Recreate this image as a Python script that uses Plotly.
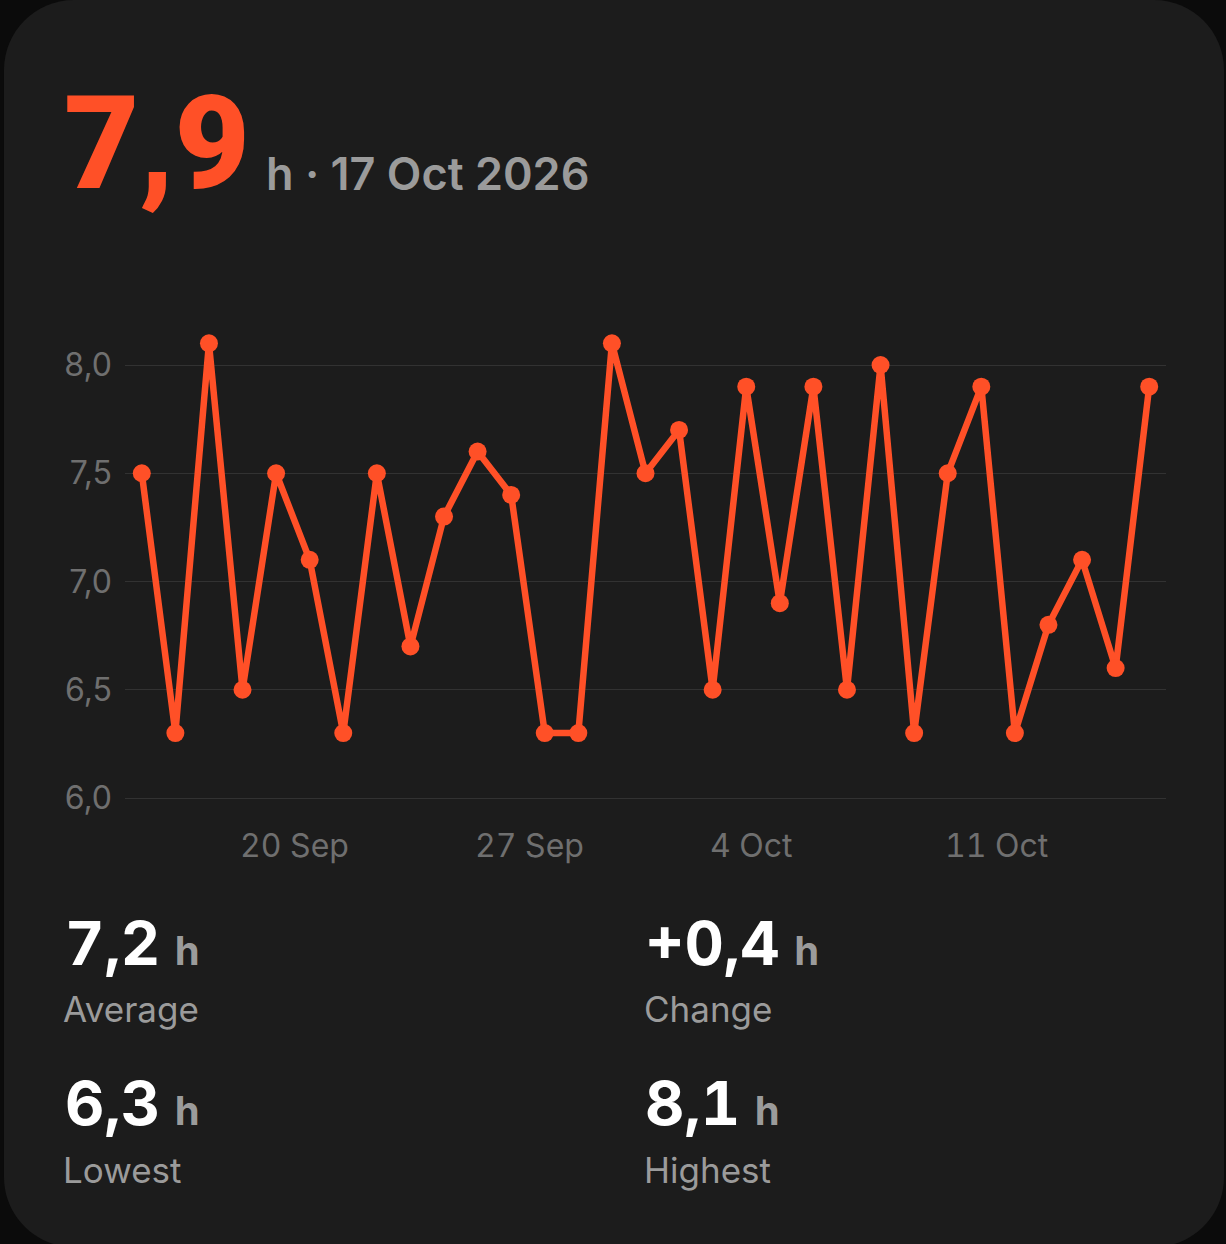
import plotly.graph_objects as go
import pandas as pd

# ---------------- data ----------------
dates = pd.date_range("2026-09-17", "2026-10-17", freq="D").strftime("%Y-%m-%d").tolist()
sleep_hours = [7.5, 6.3, 8.1, 6.5, 7.5, 7.1, 6.3, 7.5, 6.7, 7.3,
               7.6, 7.4, 6.3, 6.3, 8.1, 7.5, 7.7, 6.5, 7.9, 6.9,
               7.9, 6.5, 8.0, 6.3, 7.5, 7.9, 6.3, 6.8, 7.1, 6.6, 7.9]
y_ticks = [6.0, 6.5, 7.0, 7.5, 8.0]
x_tick_dates = ["2026-09-20", "2026-09-27", "2026-10-04", "2026-10-11"]
x_tick_labels = ["20 Sep", "27 Sep", "4 Oct", "11 Oct"]

headline_value = "7,9"
headline_sub = "h · 17 Oct 2026"
stat_values = ["7,2", "+0,4", "6,3", "8,1"]
stat_labels = ["Average", "Change", "Lowest", "Highest"]

# ---------------- layout helpers ----------------
W, H = 1226, 1244
def fx(px):
    return px / W
def fy(py):
    return 1 - py / H

ORANGE = "#FF5027"
CARD = "#1c1c1c"
OUTER = "#0b0b0b"
GRID = "#323232"
TICK_GREY = "#6f6f6f"
LABEL_GREY = "#9b9b9b"
TNUM = "font-feature-settings:\"tnum\" 1"

# card path with rounded corners (paper coords)
x0, x1, y0, y1, r = 4, 1224, 0, 1247, 70
k = 0.4477
def P(px, py):
    return f"{fx(px):.5f},{fy(py):.5f}"
card_path = (
    f"M {P(x0 + r, y0)} L {P(x1 - r, y0)} "
    f"C {P(x1 - r * k, y0)} {P(x1, y0 + r * k)} {P(x1, y0 + r)} "
    f"L {P(x1, y1 - r)} "
    f"C {P(x1, y1 - r * k)} {P(x1 - r * k, y1)} {P(x1 - r, y1)} "
    f"L {P(x0 + r, y1)} "
    f"C {P(x0 + r * k, y1)} {P(x0, y1 - r * k)} {P(x0, y1 - r)} "
    f"L {P(x0, y0 + r)} "
    f"C {P(x0, y0 + r * k)} {P(x0 + r * k, y0)} {P(x0 + r, y0)} Z"
)

fig = go.Figure()
fig.add_trace(go.Scatter(
    x=dates, y=sleep_hours, mode="lines+markers",
    line=dict(color=ORANGE, width=6.5),
    marker=dict(color=ORANGE, size=18),
    cliponaxis=False, hoverinfo="skip",
))

# plot area geometry: 6.0 at y=798px, 8.0 at y=365px
px_per_unit = (798 - 365) / 2.0
y_lo, y_hi = 5.99, 8.2
dom_bottom = 798 + (6.0 - y_lo) * px_per_unit
dom_top = 798 - (y_hi - 6.0) * px_per_unit

annotations = []
# headline
annotations.append(dict(
    text=headline_value, xref="paper", yref="paper", x=fx(62), y=fy(143),
    xanchor="left", yanchor="middle", showarrow=False,
    font=dict(family="Roboto", size=130, color=ORANGE, weight=900),
))
annotations.append(dict(
    text=headline_sub, xref="paper", yref="paper", x=fx(264), y=fy(173),
    xanchor="left", yanchor="middle", showarrow=False,
    font=dict(family="Inter", size=45, color=LABEL_GREY, weight=600),
))
# x tick labels
for d, lab in zip(x_tick_dates, x_tick_labels):
    annotations.append(dict(
        text=f"<span style='{TNUM}'>{lab}</span>", xref="x", yref="paper", x=d, y=fy(845),
        xanchor="left", yanchor="middle", xshift=-5, showarrow=False,
        font=dict(family="Inter", size=32, color=TICK_GREY),
    ))
# stats
stat_pos = [(63, 61, 943, 1009), (643, 642, 943, 1009),
            (63, 61, 1103, 1170), (643, 642, 1103, 1170)]
for val, lab, (sx, lx, vy, ly) in zip(stat_values, stat_labels, stat_pos):
    annotations.append(dict(
        text=(f"<span style='{TNUM}'>{val}</span> "
              f"<span style='font-size:40px;color:{LABEL_GREY}'>h</span>"),
        xref="paper", yref="paper", x=fx(sx), y=fy(vy),
        xanchor="left", yanchor="middle", showarrow=False,
        font=dict(family="Inter", size=61, color="#ffffff", weight=700),
    ))
    annotations.append(dict(
        text=lab, xref="paper", yref="paper", x=fx(lx), y=fy(ly),
        xanchor="left", yanchor="middle", showarrow=False,
        font=dict(family="Inter", size=35, color=LABEL_GREY, weight=400),
    ))

fig.update_layout(
    width=W, height=H, autosize=False,
    margin=dict(l=0, r=0, t=0, b=0, pad=0, autoexpand=False),
    paper_bgcolor=OUTER, plot_bgcolor="rgba(0,0,0,0)",
    separators=",.",
    showlegend=False,
    shapes=[dict(type="path", path=card_path, xref="paper", yref="paper",
                 fillcolor=CARD, line=dict(width=0), layer="below")],
    annotations=annotations,
    xaxis=dict(
        type="date", domain=[fx(125), fx(1166)],
        range=["2026-09-16 12:00", "2026-10-17 12:00"],
        showgrid=False, zeroline=False, showline=False, showticklabels=False,
        automargin=False, fixedrange=True,
    ),
    yaxis=dict(
        domain=[fy(dom_bottom), fy(dom_top)], range=[y_lo, y_hi],
        tickvals=y_ticks, tickformat=".1f",
        showgrid=True, gridcolor=GRID, gridwidth=1,
        zeroline=False, showline=False, ticks="",
        ticklabelstandoff=12, automargin=False,
        tickfont=dict(family="Inter", size=32, color=TICK_GREY),
        fixedrange=True,
    ),
)

fig.write_html("out.html")
